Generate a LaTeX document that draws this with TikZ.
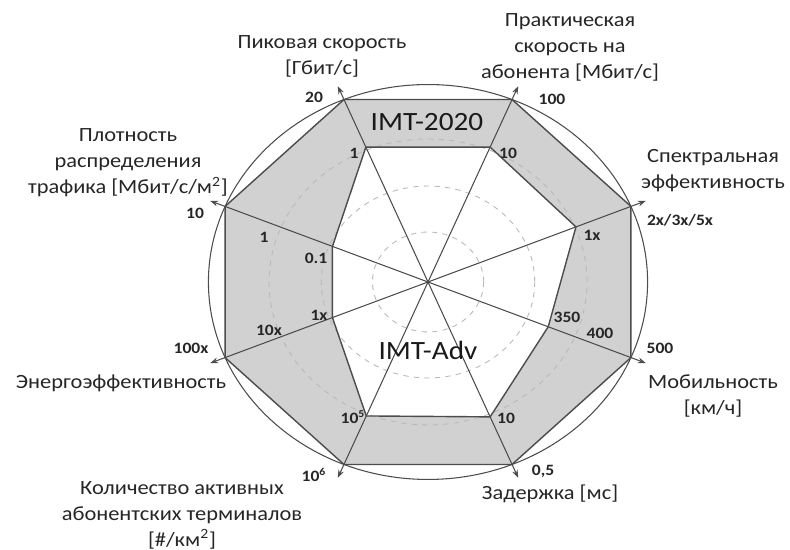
\documentclass[tikz,border=0pt]{standalone}
\usepackage{fontspec}
\setmainfont{Carlito}[FakeStretch=1.11]
\usetikzlibrary{arrows.meta}
\definecolor{linegray}{gray}{0.3}
\definecolor{bandgray}{gray}{0.82}
\tikzset{
  axis/.style={draw=linegray, line width=0.6pt, -{Stealth[length=4.5pt,width=3.2pt]}},
  poly/.style={draw=linegray, line width=0.8pt, line join=round},
  ring/.style={draw=gray!55, dashed, line width=0.5pt},
  val/.style={font=\fontsize{9}{10}\selectfont\bfseries, text=black!85, inner sep=0pt},
  axlabel/.style={font=\fontsize{11.5}{14.8}\selectfont, align=center, text=black!85, inner sep=0pt},
  title/.style={font=\fontsize{15}{18}\selectfont, text=black!90, inner sep=0pt},
}
\begin{document}
\begin{tikzpicture}[x=0.02cm, y=0.02cm]
\useasboundingbox (0,0) rectangle (790,550);
\coordinate (O) at (428,268);
\begin{scope}[shift={(O)}, xscale=1.112]
% axes: name / angle / IMT-Advanced radius
\foreach \n/\a/\r in {pk/112.5/146, us/67.5/146, se/22.5/144, mo/-22.5/117,
                      la/-67.5/146, de/-112.5/145, en/-157.5/93, tr/157.5/93}{
  \coordinate (\n-out) at (\a:197.5);
  \coordinate (\n-in) at (\a:\r);
  \coordinate (\n-tip) at (\a:212);
}
\fill[bandgray, even odd rule] (pk-out) \foreach \n in {us,se,mo,la,de,en,tr}{ -- (\n-out)} -- cycle
  (pk-in) \foreach \n in {us,se,mo,la,de,en,tr}{ -- (\n-in)} -- cycle;
\foreach \r in {1cm,1.92cm,2.86cm}
  \draw[ring] (0,0) circle[radius=\r];
\draw[draw=linegray, line width=0.6pt] (0,0) circle[radius=3.95cm];
\draw[poly] (pk-out) \foreach \n in {us,se,mo,la,de,en,tr}{ -- (\n-out)} -- cycle;
\draw[poly] (pk-in) \foreach \n in {us,se,mo,la,de,en,tr}{ -- (\n-in)} -- cycle;
\foreach \n in {pk,us,se,mo,la,de,en,tr}
  \draw[axis] (O) -- (\n-tip);
\end{scope}
% titles of the two polygons
\node[title] (t2020) at (427,428) {IMT-2020};
\node[title] (tadv) at (428,200) {IMT-Adv};
% values on the axes
\node[val] (pk-hi) at (314,453) {20};
\node[val] (pk-lo) at (354,397) {1};
\node[val] (us-hi) at (552,451) {100};
\node[val] (us-lo) at (508,397) {10};
\node[val] (se-hi) at (680,330) {2x/3x/5x};
\node[val] (se-lo) at (592,315) {1x};
\node[val] (mo-hi) at (660,202) {500};
\node[val] (mo-mid) at (600,217) {400};
\node[val] (mo-lo) at (567,233) {350};
\node[val] (la-hi) at (543,79) {0,5};
\node[val] (la-lo) at (506,132) {10};
\node[val] (de-hi) at (314,75) {10\textsuperscript{6}};
\node[val] (de-lo) at (353,133) {10\textsuperscript{5}};
\node[val] (en-hi) at (191,202) {100x};
\node[val] (en-mid) at (269,220) {10x};
\node[val] (en-lo) at (319,235) {1x};
\node[val] (tr-hi) at (195,337) {10};
\node[val] (tr-mid) at (264,313) {1};
\node[val] (tr-lo) at (316,292) {0.1};
% axis names
\node[axlabel] (pk-name) at (322,494) {Пиковая скорость\\\relax [Гбит/с]};
\node[axlabel] (us-name) at (570,503) {Практическая\\скорость на\\абонента [Мбит/с]};
\node[axlabel] (se-name) at (713,379) {Спектральная\\эффективность};
\node[axlabel] (mo-name) at (713,154) {Мобильность\\\relax [км/ч]};
\node[axlabel] (la-name) at (550,56) {Задержка [мс]};
\node[axlabel] (de-name) at (182,35) {Количество активных\\абонентских терминалов\\\relax [\#/км\textsuperscript{2}]};
\node[axlabel] (en-name) at (121,167) {Энергоэффективность};
\node[axlabel] (tr-name) at (128,387) {Плотность\\распределения\\трафика [Мбит/с/м\textsuperscript{2}]};
\end{tikzpicture}
\end{document}
